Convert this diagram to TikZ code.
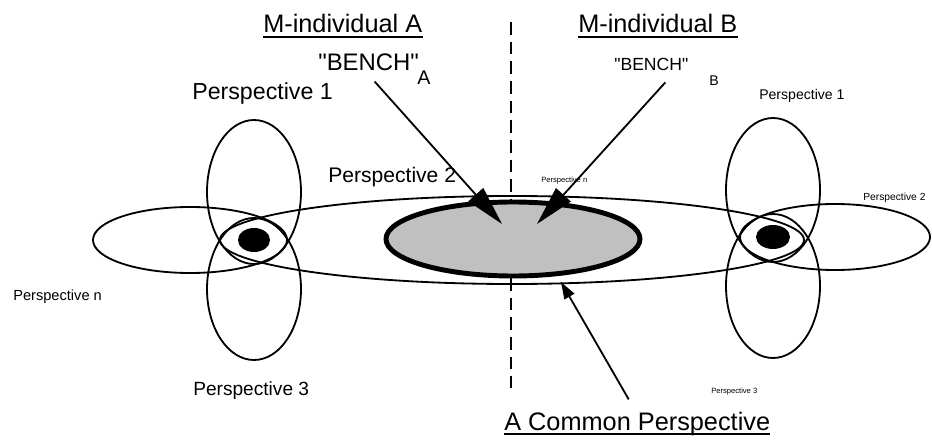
\documentclass[tikz,border=0pt]{standalone}
\usepackage{fontspec}
\newfontfamily\persfont{Liberation Sans}
\usetikzlibrary{arrows.meta,calc}
\definecolor{benchgray}{RGB}{192,192,192}
\newcommand{\fsz}[1]{\persfont\fontsize{#1}{#1}\selectfont}

\begin{document}
\begin{tikzpicture}[x=0.025cm,y=-0.025cm,
        persp/.style={line width=1.3pt},
        txt/.style={inner sep=0pt,anchor=base west},
        uline/.style={line width=1.4pt},
        bigarrow/.style={line width=1.3pt,-{Triangle[length=28pt,width=14pt]}},
        smallarrow/.style={line width=1.3pt,-{Triangle[length=12pt,width=8pt]}}]
    \useasboundingbox (0,0) rectangle (932,445);

    % Divider between the two M-individuals
    \coordinate (divtop) at (511,22);
    \coordinate (divbot) at (511,388);
    \draw[line width=1.4pt,dash pattern=on 9pt off 5pt] (divtop) -- (divbot);

    % Left cluster (M-individual A)
    \draw[persp] (254,192) ellipse [x radius=47, y radius=72];
    \draw[persp] (254,289) ellipse [x radius=47, y radius=71];
    \draw[persp] (190,240) ellipse [x radius=97, y radius=33];
    \fill (254,240) ellipse [x radius=16, y radius=12];

    % Right cluster (M-individual B)
    \draw[persp] (773,190) ellipse [x radius=47, y radius=72];
    \draw[persp] (773,286) ellipse [x radius=47, y radius=72];
    \draw[persp] (835,237) ellipse [x radius=95, y radius=33];
    \fill (773,237) ellipse [x radius=17, y radius=12];

    % Shared perspective
    \draw[persp] (512,240) ellipse [x radius=292, y radius=44];
    \draw[line width=3.5pt,fill=benchgray] (513,239) ellipse [x radius=127, y radius=37];

    % Headings
    \node[txt,font=\fsz{18}] (indA) at (263,33) {M-individual A};
    \node[txt,font=\fsz{18}] (indB) at (578,33) {M-individual B};
    \draw[uline] ([yshift=-2.8pt]indA.base west) -- ([yshift=-2.8pt]indA.base east);
    \draw[uline] ([yshift=-2.8pt]indB.base west) -- ([yshift=-2.8pt]indB.base east);

    % Words
    \node[txt,font=\fsz{17}] (benchA) at (318,71) {"BENCH"};
    \node[txt,font=\fsz{14}] (subA) at (417,85) {A};
    \node[txt,font=\fsz{12.5}] (benchB) at (614,71) {"BENCH"};
    \node[txt,font=\fsz{10}] (subB) at (709,86) {B};

    % Perspectives of A
    \node[txt,font=\fsz{16.5}] (persA1) at (192,100) {Perspective 1};
    \node[txt,font=\fsz{15}] (persA2) at (328,183) {Perspective 2};
    \node[txt,font=\fsz{10.4}] (persAn) at (13,300) {Perspective n};
    \node[txt,font=\fsz{13.6}] (persA3) at (193,395) {Perspective 3};

    % Perspectives of B
    \node[txt,font=\fsz{10}] (persB1) at (759,100) {Perspective 1};
    \node[txt,font=\fsz{7.3}] (persB2) at (863,201) {Perspective 2};
    \node[txt,font=\fsz{5.4}] (persBn) at (541,183) {Perspective n};
    \node[txt,font=\fsz{5.4}] (persB3) at (711,393) {Perspective 3};

    % Common perspective
    \node[txt,font=\fsz{18}] (common) at (504,430) {A Common Perspective};
    \draw[uline] ([yshift=-2.8pt]common.base west) -- ([yshift=-2.8pt]common.base east);

    % Arrows
    \coordinate (tipA) at (502,224);
    \coordinate (tipB) at (537,224);
    \coordinate (tipC) at (561,282);
    \draw[bigarrow] ($(benchA.south)+(6,10)$) -- (tipA);
    \draw[bigarrow] ($(benchB.south)+(14,11)$) -- (tipB);
    \draw[smallarrow] ($(common.north)+(-8.5,-12)$) -- (tipC);
\end{tikzpicture}
\end{document}
